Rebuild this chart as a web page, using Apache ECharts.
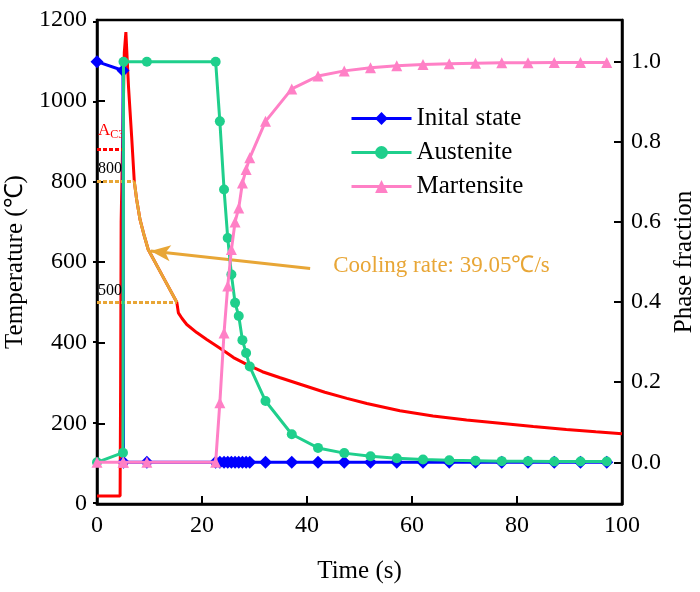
<!DOCTYPE html>
<html>
<head>
<meta charset="utf-8">
<script src="https://cdn.jsdelivr.net/npm/echarts@6/dist/echarts.min.js"></script>
<style>
html, body { margin: 0; padding: 0; background: #fff; }
#main { width: 700px; height: 592px; }
</style>
</head>
<body>
<div id="main"></div>
<script>
// temperature history (left axis)
var tempTime = [0, 4.4, 4.5, 4.6, 5.2, 5.5, 6.0, 6.6, 7.1, 7.55, 8.2, 9.0, 9.75, 12.5, 15.2, 15.5, 16.2, 17.1, 19.0, 20.9, 23.0, 24.7, 26.0, 28.5, 31.5, 34.9, 38.7, 43.4, 47.6, 51.4, 57.7, 64.0, 70.4, 76.8, 83.1, 89.4, 95.0, 100];
var temperature = [20, 20, 300, 700, 1120, 1170, 1035, 911, 800, 755, 705, 665, 631, 565, 500, 474, 460, 445, 425, 408, 390, 375, 363, 346, 328, 313, 297, 277, 262, 249, 231, 218, 208, 200, 192, 185, 179, 174];

// 800 -> 500 cooling segment
var coolStart = 7.1;
var coolEnd = 15.2;

// phase fractions (right axis)
var phaseTime = [0, 4.95, 5.05, 9.5, 22.6, 23.4, 24.2, 24.9, 25.6, 26.3, 27.0, 27.7, 28.4, 29.1, 32.1, 37.1, 42.1, 47.1, 52.1, 57.1, 62.1, 67.1, 72.1, 77.1, 82.1, 87.1, 92.1, 97.1];
var initialState = [1, 0.978, 0, 0, 0, 0, 0, 0, 0, 0, 0, 0, 0, 0, 0, 0, 0, 0, 0, 0, 0, 0, 0, 0, 0, 0, 0, 0];
var austenite = [0, 0.024, 1, 1, 1, 0.851, 0.681, 0.560, 0.469, 0.398, 0.365, 0.305, 0.273, 0.239, 0.153, 0.070, 0.036, 0.023, 0.015, 0.010, 0.007, 0.005, 0.004, 0.003, 0.003, 0.002, 0.002, 0.002];
var martensite = [0, 0, 0, 0, 0, 0.149, 0.323, 0.440, 0.531, 0.600, 0.635, 0.697, 0.731, 0.760, 0.851, 0.932, 0.964, 0.977, 0.985, 0.990, 0.993, 0.995, 0.996, 0.997, 0.997, 0.998, 0.998, 0.998];

// ticks
var timeTicks = [0, 20, 40, 60, 80, 100];
var tempTicks = [0, 200, 400, 600, 800, 1000, 1200];
var phaseTicks = [0, 0.2, 0.4, 0.6, 0.8, 1.0];
var phaseMinorTicks = [-0.1, 0.1, 0.3, 0.5, 0.7, 0.9, 1.1];

// reference levels: Ac3, 800, 500 and where their dotted lines stop
var refLevels = [880, 800, 500];
var refEnds = [5.2, 7.1, 15.2];
var coolingLabel = 'Cooling rate: 39.05℃/s';

var FONT = 'Liberation Serif';
var RED = '#ff0000', BLUE = '#0000ff', GREEN = '#1fcf8c', PINK = '#ff80c6', ORANGE = '#e8a636';

function zip(xs, ys) {
  return xs.map(function (x, i) { return [x, ys[i]]; });
}

var tempData = zip(tempTime, temperature);
var coolData = tempData.filter(function (p) { return p[0] >= coolStart && p[0] <= coolEnd; });

var chart = echarts.init(document.getElementById('main'), null, { renderer: 'canvas' });

var axisCommon = {
  axisLine: { show: true, onZero: false, lineStyle: { color: '#000', width: 2.5 } },
  axisTick: { show: true, inside: true, length: 8, lineStyle: { color: '#000', width: 2 } },
  axisLabel: { color: '#000', fontFamily: FONT, fontSize: 24 },
  splitLine: { show: false },
  nameLocation: 'middle',
  nameTextStyle: { color: '#000', fontFamily: FONT, fontSize: 25 }
};

function textPoint(x, y, label) {
  return {
    coord: [x, y],
    symbol: 'circle',
    symbolSize: 0,
    label: label
  };
}

var option = {
  animation: false,
  backgroundColor: '#fff',
  grid: {
    left: 97, right: 78, top: 20, bottom: 88,
    show: true, borderColor: '#000', borderWidth: 2.5,
    outerBoundsMode: 'none'
  },
  legend: {
    data: ['Inital state', 'Austenite', 'Martensite'],
    orient: 'vertical',
    left: 345,
    top: 101,
    itemWidth: 60,
    itemHeight: 16,
    itemGap: 9,
    lineStyle: { width: 3 },
    textStyle: { color: '#000', fontFamily: FONT, fontSize: 25 }
  },
  xAxis: Object.assign({}, axisCommon, {
    type: 'value',
    min: 0, max: 100, interval: 20,
    name: 'Time (s)',
    nameGap: 55,
    axisLabel: Object.assign({}, axisCommon.axisLabel, { margin: 10, customValues: timeTicks }),
    axisTick: Object.assign({}, axisCommon.axisTick, { customValues: timeTicks })
  }),
  yAxis: [
    Object.assign({}, axisCommon, {
      type: 'value',
      position: 'left',
      min: 0, max: 1200, interval: 200,
      name: 'Temperature (℃)',
      nameRotate: 90,
      nameGap: 52,
      axisLabel: Object.assign({}, axisCommon.axisLabel, {
        margin: 10,
        customValues: tempTicks,
        formatter: function (v) { return String(v); }
      }),
      axisTick: Object.assign({}, axisCommon.axisTick, { customValues: tempTicks })
    }),
    Object.assign({}, axisCommon, {
      type: 'value',
      position: 'right',
      min: -0.104, max: 1.104,
      name: 'Phase fraction',
      nameRotate: 90,
      nameGap: 50,
      axisLabel: Object.assign({}, axisCommon.axisLabel, {
        margin: 9,
        customValues: phaseTicks,
        formatter: function (v) { return v.toFixed(1); }
      }),
      axisTick: Object.assign({}, axisCommon.axisTick, { customValues: phaseTicks })
    }),
    {
      type: 'value',
      position: 'right',
      min: -0.104, max: 1.104,
      axisLine: { show: false },
      axisLabel: { show: false },
      splitLine: { show: false },
      axisTick: { show: true, inside: true, length: 4, customValues: phaseMinorTicks, lineStyle: { color: '#000', width: 2 } }
    }
  ],
  series: [
    {
      name: 'Temperature',
      type: 'line',
      yAxisIndex: 0,
      data: tempData,
      symbol: 'none',
      lineStyle: { color: RED, width: 3 },
      itemStyle: { color: RED },
      z: 2,
      markLine: {
        silent: true,
        symbol: 'none',
        label: { show: false },
        data: [
          [{ coord: [0, refLevels[0]], lineStyle: { color: RED, width: 3, type: [4, 2] } }, { coord: [refEnds[0], refLevels[0]] }],
          [{ coord: [0, refLevels[1]], lineStyle: { color: ORANGE, width: 3, type: [4, 2] } }, { coord: [refEnds[1], refLevels[1]] }],
          [{ coord: [0, refLevels[2]], lineStyle: { color: ORANGE, width: 3, type: [4, 2] } }, { coord: [refEnds[2], refLevels[2]] }],
          [
            { coord: [40.6, 584], lineStyle: { color: ORANGE, width: 3, type: 'solid' }, symbol: 'none' },
            { coord: [10.2, 627], symbol: 'arrow', symbolSize: [12, 20] }
          ]
        ]
      },
      markPoint: {
        silent: true,
        data: [
          textPoint(0.2, 925, {
            show: true, position: 'right', distance: 0,
            formatter: '{a|A}{b|C3}',
            rich: {
              a: { color: RED, fontFamily: FONT, fontSize: 17 },
              b: { color: RED, fontFamily: FONT, fontSize: 12, verticalAlign: 'bottom', padding: [8, 0, 0, 0] }
            }
          }),
          textPoint(0.2, 831, { show: true, position: 'right', distance: 0, formatter: '800', color: '#000', fontFamily: FONT, fontSize: 16 }),
          textPoint(0.2, 528, { show: true, position: 'right', distance: 0, formatter: '500', color: '#000', fontFamily: FONT, fontSize: 16 }),
          textPoint(45, 589, { show: true, position: 'right', distance: 0, formatter: coolingLabel, color: ORANGE, fontFamily: FONT, fontSize: 23 })
        ]
      }
    },
    {
      name: 'Cooling',
      type: 'line',
      yAxisIndex: 0,
      data: coolData,
      symbol: 'none',
      lineStyle: { color: ORANGE, width: 3 },
      itemStyle: { color: ORANGE },
      z: 3
    },
    {
      name: 'Inital state',
      type: 'line',
      yAxisIndex: 1,
      data: zip(phaseTime, initialState),
      symbol: 'diamond',
      symbolSize: 13,
      showAllSymbol: true,
      lineStyle: { color: BLUE, width: 3 },
      itemStyle: { color: BLUE },
      z: 4
    },
    {
      name: 'Austenite',
      type: 'line',
      yAxisIndex: 1,
      data: zip(phaseTime, austenite),
      symbol: 'circle',
      symbolSize: 10,
      showAllSymbol: true,
      lineStyle: { color: GREEN, width: 3 },
      itemStyle: { color: GREEN },
      z: 5
    },
    {
      name: 'Martensite',
      type: 'line',
      yAxisIndex: 1,
      data: zip(phaseTime, martensite),
      symbol: 'triangle',
      symbolSize: 11,
      showAllSymbol: true,
      lineStyle: { color: PINK, width: 3 },
      itemStyle: { color: PINK },
      z: 6
    }
  ]
};

chart.setOption(option);
</script>
</body>
</html>
